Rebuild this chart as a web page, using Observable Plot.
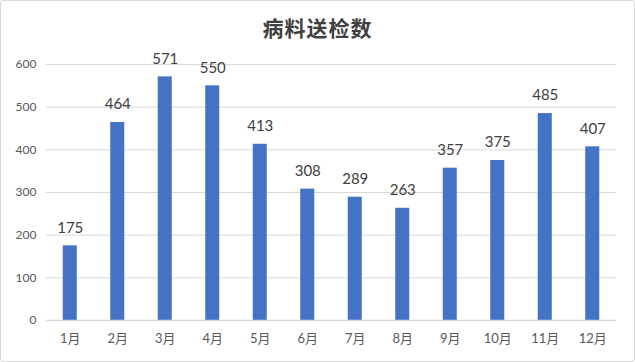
<!DOCTYPE html>
<html>
<head>
<meta charset="utf-8">
<script src="https://cdn.jsdelivr.net/npm/d3@7"></script>
<script src="https://cdn.jsdelivr.net/npm/@observablehq/plot@0.6"></script>
<style>
  html, body { margin: 0; padding: 0; background: #fff; }
  #wrap { position: relative; width: 635px; height: 362px; overflow: hidden; font-family: Lato, "Noto Sans CJK SC", sans-serif; }
  #frame { position: absolute; left: 0; top: 0; width: 633px; height: 360px; border: 1px solid #d9d9d9; border-radius: 3px; pointer-events: none; }
  #title { position: absolute; left: 0; top: 0; width: 635px; height: 48px; line-height: 54px; text-align: center; font-family: "Noto Sans CJK SC", sans-serif; font-weight: bold; font-size: 21px; color: #404040; letter-spacing: 1px; }
  #chart { position: absolute; left: 0; top: 48px; }
</style>
</head>
<body>
<div id="wrap">
  <div id="title">病料送检数</div>
  <div id="chart"></div>
  <div id="frame"></div>
</div>
<script>
const months = ["1月","2月","3月","4月","5月","6月","7月","8月","9月","10月","11月","12月"];
const counts = [175, 464, 571, 550, 413, 308, 289, 263, 357, 375, 485, 407];
const yTicks = [0, 100, 200, 300, 400, 500, 600];

const data = months.map((m, i) => ({month: m, value: counts[i]}));

const chart = Plot.plot({
  width: 635,
  height: 314,
  marginTop: 16,
  marginBottom: 42,
  marginLeft: 46,
  marginRight: 19,
  style: {fontFamily: 'Lato, "Noto Sans CJK SC", sans-serif', background: "transparent"},
  x: {domain: months, paddingInner: 0.705, paddingOuter: 0.3525, round: false, label: null},
  y: {domain: [0, 600], ticks: yTicks, label: null},
  marks: [
    Plot.gridY(yTicks.filter(d => d > 0), {stroke: "#d9d9d9", strokeOpacity: 1, strokeWidth: 1}),
    Plot.barY(data, {x: "month", y: "value", fill: "#4472C4"}),
    Plot.ruleY([0], {stroke: "#d9d9d9", strokeWidth: 1.5}),
    Plot.text(data, {x: "month", y: "value", text: d => String(d.value), dy: -18, fontSize: 15, fill: "#404040"}),
    Plot.axisX({tickSize: 0, tickPadding: 13, fontSize: 13, color: "#595959", label: null}),
    Plot.axisY({ticks: yTicks, tickSize: 0, tickPadding: 10, fontSize: 12, color: "#595959", label: null})
  ]
});
document.getElementById("chart").appendChild(chart);
</script>
</body>
</html>
